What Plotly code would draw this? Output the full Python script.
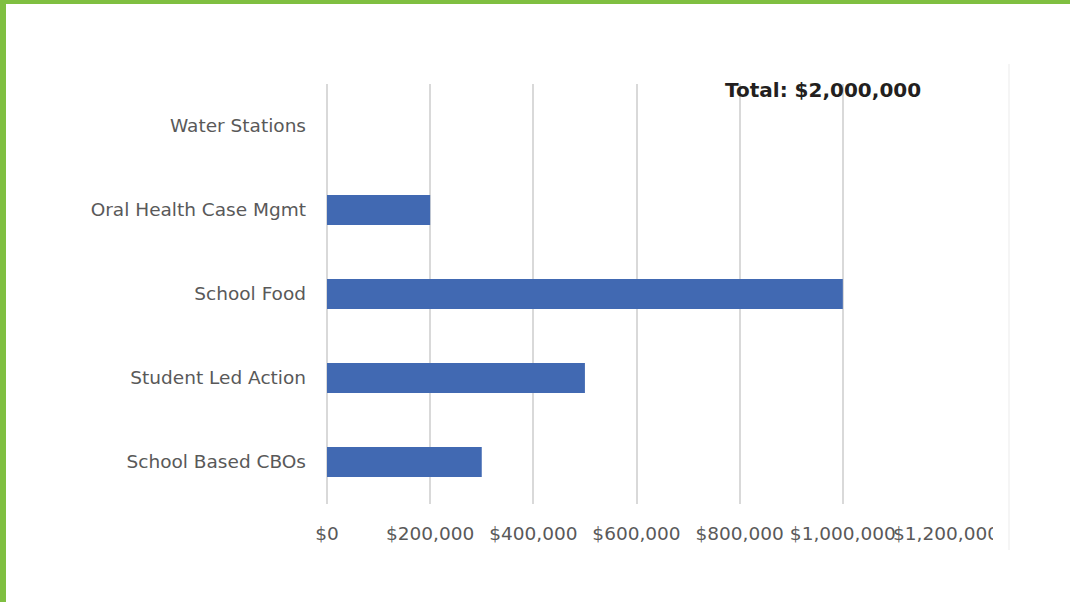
import plotly.graph_objects as go

# Funding by program area (USD)
categories = ["School Based CBOs", "Student Led Action", "School Food",
              "Oral Health Case Mgmt", "Water Stations"]
amounts = [300000, 500000, 1000000, 200000, 0]
tick_values = [0, 200000, 400000, 600000, 800000, 1000000, 1200000]
tick_labels = ["$0", "$200,000", "$400,000", "$600,000", "$800,000",
               "$1,000,000", "$1,200,000"]
total_label = "Total: $2,000,000"

W, H = 1070, 602
L, R, T, B = 327, 946, 84, 504


def px_x(p):
    return (p - L) / (R - L)


def px_y(p):
    return (B - p) / (B - T)


fig = go.Figure(go.Bar(
    x=amounts, y=categories, orientation="h",
    marker=dict(color="#4169B2", line=dict(width=0)),
    hoverinfo="x+y",
))

fig.update_layout(
    width=W, height=H,
    margin=dict(l=L, r=W - R, t=T, b=H - B, pad=0),
    paper_bgcolor="white", plot_bgcolor="white",
    bargap=0.643,
    showlegend=False,
    font=dict(family="DejaVu Sans", size=18.5, color="#595959"),
    xaxis=dict(
        range=[0, 1200000], tickvals=tick_values, ticktext=tick_labels,
        tickangle=0, showgrid=True, gridcolor="#D9D9D9", gridwidth=1.5,
        zeroline=True, zerolinecolor="#D9D9D9", zerolinewidth=1.5,
        showline=False, ticks="", ticklabelstandoff=16,
        tickfont=dict(family="DejaVu Sans", size=18.5, color="#595959"),
        fixedrange=True,
    ),
    yaxis=dict(
        showgrid=False, zeroline=False, showline=False, ticks="",
        ticklabelstandoff=20,
        tickfont=dict(family="DejaVu Sans", size=18.5, color="#595959"),
        fixedrange=True,
    ),
    shapes=[
        # green frame on top and left edges
        dict(type="rect", xref="paper", yref="paper",
             x0=px_x(0), x1=px_x(W), y0=px_y(4), y1=px_y(0),
             fillcolor="#7FBF41", line=dict(width=0), layer="above"),
        dict(type="rect", xref="paper", yref="paper",
             x0=px_x(0), x1=px_x(6), y0=px_y(H), y1=px_y(0),
             fillcolor="#7FBF41", line=dict(width=0), layer="above"),
        # cropped chart edge
        dict(type="rect", xref="paper", yref="paper",
             x0=px_x(993), x1=px_x(W), y0=px_y(560), y1=px_y(510),
             fillcolor="white", line=dict(width=0), layer="above"),
        dict(type="line", xref="paper", yref="paper",
             x0=px_x(1009), x1=px_x(1009), y0=px_y(550), y1=px_y(64),
             line=dict(color="#EBEBEB", width=1), layer="above"),
    ],
    annotations=[
        dict(text=total_label, xref="paper", yref="paper",
             x=px_x(723), y=px_y(90), xanchor="left", yanchor="middle",
             showarrow=False,
             font=dict(family="DejaVu Sans", size=20, color="#231F20",
                       weight="bold")),
    ],
)

fig.write_html("out.html")
